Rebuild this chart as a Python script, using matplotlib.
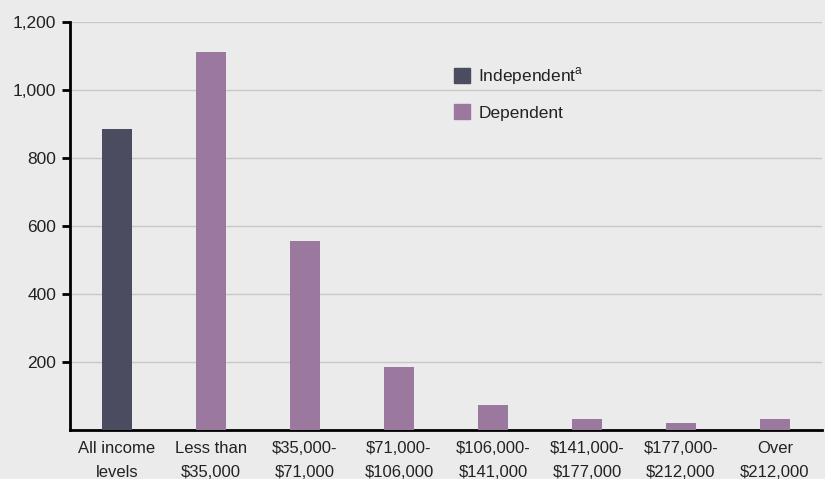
import matplotlib
matplotlib.use("Agg")
import matplotlib.pyplot as plt
from matplotlib.patches import Patch

plt.rcParams['font.family'] = ['Liberation Sans', 'DejaVu Sans']
plt.rcParams['mathtext.fontset'] = 'custom'
plt.rcParams['mathtext.rm'] = 'Liberation Sans'

categories = ["All income\nlevels", "Less than\n$35,000", "$35,000-\n$71,000", "$71,000-\n$106,000",
              "$106,000-\n$141,000", "$141,000-\n$177,000", "$177,000-\n$212,000", "Over\n$212,000"]
values = [885, 1112, 556, 185, 74, 32, 21, 32]
groups = ["Independent", "Dependent", "Dependent", "Dependent", "Dependent", "Dependent", "Dependent", "Dependent"]
yticks = [200, 400, 600, 800, 1000, 1200]

colors = {"Independent": "#4b4c60", "Dependent": "#9b789d"}
bg = "#ebebeb"

fig = plt.figure(figsize=(8.25, 4.79), dpi=100, facecolor=bg)
ax = fig.add_axes([70/825, 49/479, 752/825, 408/479], facecolor=bg)

x = list(range(len(categories)))
ax.bar(x, values, width=0.32, color=[colors[g] for g in groups], zorder=3)

ax.set_xlim(-0.5, len(categories) - 0.5)
ax.set_ylim(0, 1200)
ax.set_yticks(yticks)
ax.set_yticklabels([f"{v:,}" for v in yticks])
ax.set_xticks(x)
ax.set_xticklabels(categories, linespacing=1.75)
ax.yaxis.grid(True, color="#c8c8c8", linewidth=1, zorder=0)
ax.tick_params(axis='y', direction='out', length=6, width=2, color='black', labelsize=12.5, labelcolor='#222222', pad=4)
ax.tick_params(axis='x', length=0, labelsize=12, labelcolor='#222222', pad=8)
for s in ['top', 'right']:
    ax.spines[s].set_visible(False)
for s in ['left', 'bottom']:
    ax.spines[s].set_linewidth(2)
    ax.spines[s].set_color('black')

handles = [Patch(color=colors["Independent"], label="Independent$^{\\mathrm{a}}$"),
           Patch(color=colors["Dependent"], label="Dependent")]
ax.legend(handles=handles, loc='upper left', bbox_to_anchor=(0.49, 0.932), frameon=False,
          fontsize=12.5, handlelength=0.9, handleheight=0.9, handletextpad=0.5, labelspacing=1.0,
          labelcolor='#222222')

fig.savefig("out.png", dpi=100, facecolor=bg)
